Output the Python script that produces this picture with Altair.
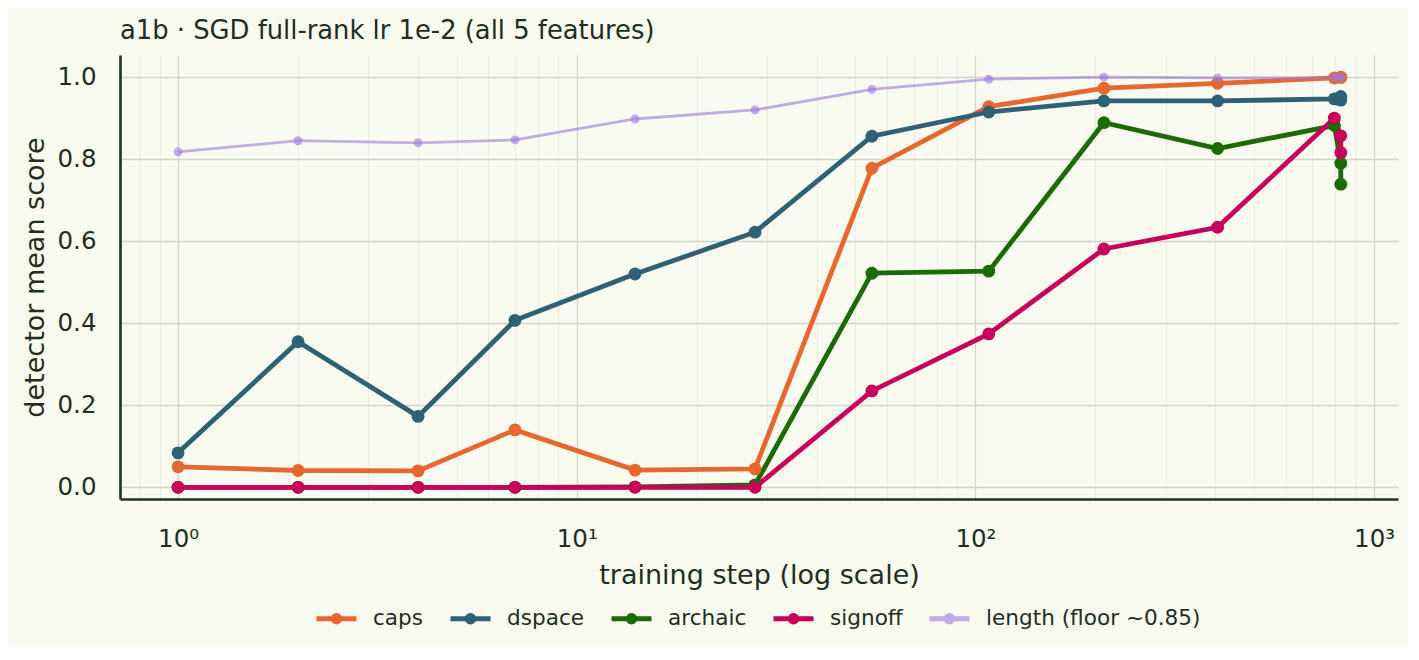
import altair as alt
import pandas as pd

# training steps (the last two are both evaluated at the final step)
steps = [1, 2, 4, 7, 14, 28, 55, 108, 210, 405, 795, 825, 825]

caps = [0.050, 0.041, 0.040, 0.140, 0.042, 0.045, 0.778, 0.928, 0.973, 0.985, 0.998, 1.000, 0.999]
dspace = [0.084, 0.355, 0.173, 0.407, 0.520, 0.622, 0.856, 0.915, 0.942, 0.942, 0.947, 0.953, 0.944]
archaic = [0.0, 0.0, 0.0, 0.0, 0.001, 0.006, 0.522, 0.527, 0.889, 0.826, 0.882, 0.790, 0.739]
signoff = [0.0, 0.0, 0.0, 0.0, 0.0, 0.0, 0.235, 0.374, 0.581, 0.634, 0.900, 0.857, 0.816]
length = [0.818, 0.845, 0.840, 0.847, 0.898, 0.920, 0.970, 0.995, 1.000, 0.998, 0.999, 1.000, 1.000]

series_names = ['caps', 'dspace', 'archaic', 'signoff', 'length (floor ~0.85)']
series_colors = ['#E8672E', '#2E6174', '#1A6B06', '#C8005A', '#9B77DD']
opacities = [1, 1, 1, 1, 0.6]

x_ticks = [0.8, 0.9, 1, 2, 3, 4, 5, 6, 7, 8, 9, 10, 20, 30, 40, 50, 60, 70, 80, 90,
           100, 200, 300, 400, 500, 600, 700, 800, 900, 1000]
y_ticks = [0.0, 0.2, 0.4, 0.6, 0.8, 1.0]

rows = []
for name, vals in zip(series_names, [caps, dspace, archaic, signoff, length]):
    for i, (s, v) in enumerate(zip(steps, vals)):
        rows.append({'step': s, 'score': v, 'series': name, 'idx': i})
df = pd.DataFrame(rows)

text_color = '#1F2E1F'
major = "indexof([1, 10, 100, 1000], datum.value) >= 0"
is_length = alt.datum.series == 'length (floor ~0.85)'

# line with a dot in the middle, drawn with strokes only
legend_path = ("M-1,0L1,0"
               "M0.17,0A0.17,0.17,0,1,1,-0.17,0A0.17,0.17,0,1,1,0.17,0"
               "M0.06,0A0.06,0.06,0,1,1,-0.06,0A0.06,0.06,0,1,1,0.06,0")

leg = alt.Legend(orient='none', legendX=194, legendY=541, direction='horizontal', columns=5,
                 title=None, symbolType=legend_path, symbolSize=1600, symbolStrokeWidth=4.8,
                 labelFontSize=21.6, labelColor=text_color, labelOffset=14, columnPadding=16,
                 padding=0, labelLimit=400)

x_enc = alt.X('step:Q',
              scale=alt.Scale(type='log', domain=[0.7151, 1148], nice=False, zero=False),
              axis=alt.Axis(values=x_ticks, title='training step (log scale)',
                            labelExpr="datum.value == 1 ? '10⁰' : datum.value == 10 ? '10¹' : "
                                      "datum.value == 100 ? '10²' : datum.value == 1000 ? '10³' : ''",
                            labelOverlap=False, labelBound=False, labelFlush=False,
                            labelBaseline='alphabetic', labelPadding=47.5, labelFontSize=24.5,
                            ticks=False, tickSize=0,
                            gridColor={"condition": {"test": major, "value": "#D3D4CC"}, "value": "#E7E8DF"},
                            gridWidth={"condition": {"test": major, "value": 1.3}, "value": 0.8},
                            titleFontSize=27, titleBaseline='alphabetic', titleY=84))
y_enc = alt.Y('score:Q',
              scale=alt.Scale(domain=[-0.0285, 1.054], nice=False, zero=False),
              axis=alt.Axis(values=y_ticks, format='.1f', title='detector mean score',
                            labelFontSize=24.5, labelPadding=24, ticks=False, tickSize=0,
                            gridColor='#D3D4CC', gridWidth=1.3,
                            titleFontSize=27, titleBaseline='alphabetic', titleX=-77))

color_scale = alt.Scale(domain=series_names, range=series_colors)
opacity_scale = alt.Scale(type='ordinal', domain=series_names, range=opacities)

base = alt.Chart(df).encode(
    x=x_enc, y=y_enc,
    color=alt.Color('series:N', scale=color_scale, legend=None),
    opacity=alt.Opacity('series:N', scale=opacity_scale, legend=None))

lines_main = base.mark_line(strokeWidth=4.8).encode(
    color=alt.Color('series:N', scale=color_scale, legend=leg),
    opacity=alt.Opacity('series:N', scale=opacity_scale, legend=leg),
    order='idx:Q').transform_filter(~is_length)
dots_main = base.mark_circle(size=165).transform_filter(~is_length)

lines_len = base.mark_line(strokeWidth=2.8).encode(order='idx:Q').transform_filter(is_length)
dots_len = base.mark_circle(size=80).transform_filter(is_length)

chart = alt.layer(lines_main, dots_main, lines_len, dots_len).properties(
    width=1278, height=444,
    autosize=alt.AutoSizeParams(type='none'),
    padding={'left': 112, 'top': 47, 'right': 10, 'bottom': 148},
    background='#F9FBF1',
    title=alt.TitleParams('a1b · SGD full-rank lr 1e-2 (all 5 features)', anchor='start', frame='group',
                          fontSize=25.8, fontWeight='normal', color=text_color, offset=10)
).configure(font='DejaVu Sans').configure_axis(
    domainColor='#223322', domainWidth=2.6, labelColor=text_color, titleColor=text_color,
    titleFontWeight='normal'
).configure_view(stroke='transparent')

chart.save("out.html", embed_options={"renderer": "svg", "actions": False})
